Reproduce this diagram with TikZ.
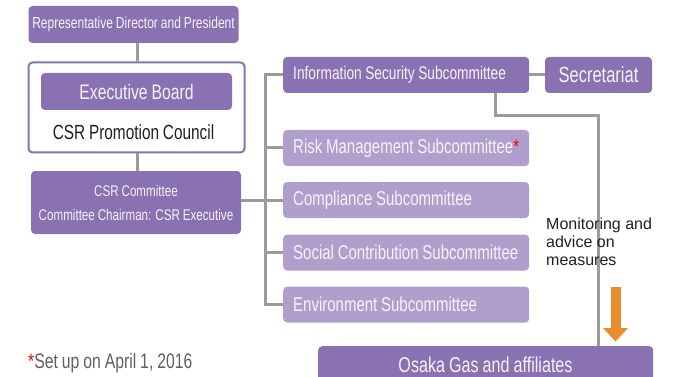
\documentclass[tikz,border=0pt]{standalone}
\usepackage{fontspec}
\setmainfont{Liberation Sans}
\newfontfamily\cond{Liberation Sans}[FakeStretch=0.75,WordSpace=0.9]
\begin{document}
\begin{tikzpicture}[x=1pt,y=-1pt,
  dk/.style={fill=purpD, rounded corners=4pt, text=boxtxt, font=\cond, inner sep=0pt, draw=none},
  lt/.style={fill=purpL, rounded corners=4pt, inner sep=0pt, minimum width=246pt, minimum height=36pt, anchor=west, draw=none},
  ltxt/.style={text=boxtxt, font=\cond\fontsize{20}{22}\selectfont, inner sep=0pt, anchor=west},
  conn/.style={draw=lineg, line width=3pt}]
\definecolor{purpD}{HTML}{8A71B1}
\definecolor{purpL}{HTML}{B09FCC}
\definecolor{lineg}{HTML}{9B9B9B}
\definecolor{boxtxt}{HTML}{F6F3FA}
\definecolor{orng}{HTML}{E88C2E}
\definecolor{darktxt}{HTML}{231F20}
\definecolor{foot}{HTML}{606060}
\useasboundingbox (0,0) rectangle (680,377);

\coordinate (tTop) at (265,75);
\coordinate (tBot) at (265,304.5);
\coordinate (m1) at (598,116);

\node[dk, minimum width=210pt, minimum height=37pt, font=\cond\fontsize{16}{17}\selectfont] (rep) at (133.5,24.5) {Representative Director and President};
\node[draw=purpD, line width=2pt, fill=white, rounded corners=4pt, minimum width=216pt, minimum height=90pt, inner sep=0pt] (council) at (136.5,107.5) {};
\node[dk, minimum width=191pt, minimum height=37pt, font=\cond\fontsize{21}{22}\selectfont] (exec) at (136.5,91.5) {Executive Board};
\node[text=darktxt, font=\cond\fontsize{20.5}{22}\selectfont, inner sep=0pt] (cpc) at (133.5,132) {CSR Promotion Council};
\node[dk, minimum width=210pt, minimum height=63pt, align=center, font=\cond\fontsize{15.5}{24}\selectfont] (csr) at (136,202.5) {CSR Committee\\Committee Chairman: CSR Executive};

\node[dk, minimum width=246pt, minimum height=36pt, anchor=west] (info) at (283,75) {};
\node[ltxt, font=\cond\fontsize{18.3}{19}\selectfont] (infot) at (293,75) {Information Security Subcommittee};
\node[dk, minimum width=107pt, minimum height=36pt, font=\cond\fontsize{22}{23}\selectfont] (sec) at (598.5,75) {Secretariat};
\node[lt] (risk) at (283,148) {};
\node[ltxt] (riskt) at (293,148) {Risk Management Subcommittee{\color{red}*}};
\node[lt] (comp) at (283,200) {};
\node[ltxt] (compt) at (293,200) {Compliance Subcommittee};
\node[lt] (soc) at (283,252.5) {};
\node[ltxt] (soct) at (293,252.5) {Social Contribution Subcommittee};
\node[lt] (env) at (283,304.5) {};
\node[ltxt] (envt) at (293,304.5) {Environment Subcommittee};

\node[dk, minimum width=335pt, minimum height=46pt, anchor=north west] (osaka) at (318,346) {};
\node[text=boxtxt, font=\cond\fontsize{21.5}{23}\selectfont, inner sep=0pt] (osakat) at (485.5,365) {Osaka Gas and affiliates};

\draw[conn] (rep.south -| 137,0) -- (council.north -| 137,0);
\draw[conn] (council.south -| 137,0) -- (csr.north -| 137,0);
\draw[conn] (csr.east |- comp.west) -- (comp.west -| tTop);
\draw[conn] (info.west) -- (tTop) -- (tBot) -- (env.west);
\draw[conn] (risk.west) -- (risk.west -| tTop);
\draw[conn] (comp.west) -- (comp.west -| tTop);
\draw[conn] (soc.west) -- (soc.west -| tTop);
\draw[conn] (info.east) -- (sec.west);
\draw[conn] (495,93) |- (m1) -- (m1 |- osaka.north);

\fill[orng] (611,287) rectangle (621,329);
\fill[orng] (603,328) -- (628,328) -- (615.5,341.5) -- cycle;

\node[text=darktxt, font=\fontsize{16}{18}\selectfont, anchor=north west, align=left, inner sep=0pt] (mon) at (546,218) {Monitoring and\\advice on\\measures};

\node[text=foot, font=\cond\fontsize{21}{22}\selectfont, anchor=west, inner sep=0pt] (fn) at (28,363) {{\color{red}*}Set up on April 1, 2016};
\end{tikzpicture}
\end{document}
